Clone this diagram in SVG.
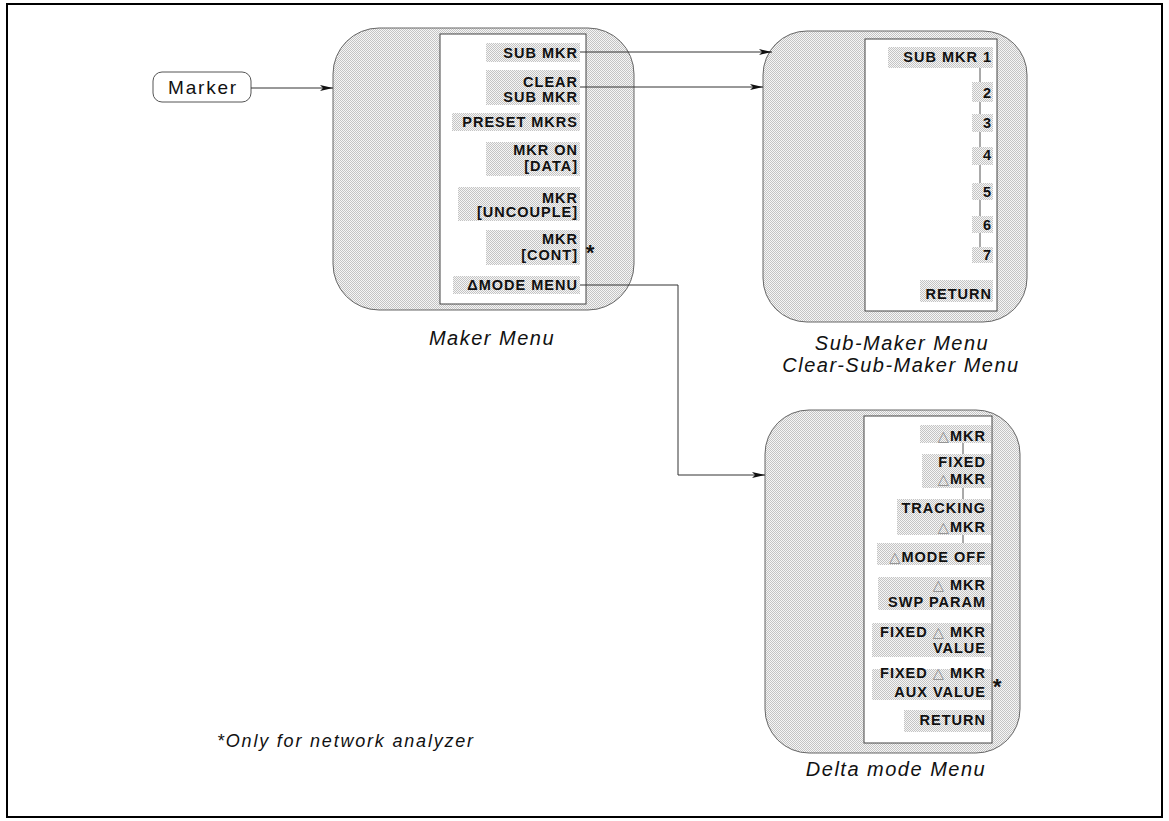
<svg xmlns="http://www.w3.org/2000/svg" width="1169" height="821" viewBox="0 0 1169 821">
<defs>
<pattern id="dots" width="2" height="2" patternUnits="userSpaceOnUse">
<rect width="2" height="2" fill="#f6f6f6"/>
<rect x="0" y="0" width="1" height="1" fill="#c4c4c4"/>
<rect x="1" y="1" width="1" height="1" fill="#c4c4c4"/>
</pattern>
<marker id="arr" markerUnits="userSpaceOnUse" markerWidth="14" markerHeight="8" refX="13" refY="4" orient="auto">
<path d="M0,1 L13,4 L0,7 L3,4 Z" fill="#111"/>
</marker>
<style>
.frame{fill:none;stroke:#000;stroke-width:2}
.outer{fill:url(#dots);stroke:#666;stroke-width:1}
.panel{fill:#fff;stroke:#444;stroke-width:1}
.hl{fill:url(#dots);stroke:none}
.lbl{font-family:"Liberation Sans",Arial,sans-serif;font-size:14.5px;font-weight:bold;letter-spacing:1px;fill:#111;text-anchor:end}
.tri{font-family:"DejaVu Sans",sans-serif;font-weight:normal;font-size:14.5px;fill:#888}
.cap{font-family:"Liberation Sans",Arial,sans-serif;font-size:20px;font-style:italic;letter-spacing:1.5px;fill:#111;text-anchor:middle}
.note{font-family:"Liberation Sans",Arial,sans-serif;font-size:18px;font-style:italic;letter-spacing:1.8px;fill:#111}
.star{font-family:"Liberation Sans",Arial,sans-serif;font-size:22px;font-weight:bold;font-style:italic;fill:#111}
.conn{fill:none;stroke:#333;stroke-width:1}
.vline{fill:none;stroke:#555;stroke-width:1}
.btn{fill:#fff;stroke:#555;stroke-width:1}
.btntxt{font-family:"Liberation Sans",Arial,sans-serif;font-size:19px;letter-spacing:1.8px;fill:#111;text-anchor:middle}
</style>
</defs>
<rect class="frame" x="7" y="4" width="1155" height="813"/>

<g id="marker-key">
<rect class="btn" x="153" y="72" width="98" height="30" rx="9"/>
<text class="btntxt" x="203" y="94">Marker</text>
</g>

<g id="maker-menu">
<rect class="outer" x="333" y="28" width="301" height="282" rx="46"/>
<rect class="panel" x="440" y="34" width="146" height="270"/>
<rect class="hl" x="486" y="43" width="94" height="19"/>
<rect class="hl" x="486" y="70" width="94" height="35"/>
<rect class="hl" x="452" y="113" width="128" height="18"/>
<rect class="hl" x="486" y="142" width="94" height="34"/>
<rect class="hl" x="458" y="187" width="122" height="34"/>
<rect class="hl" x="486" y="230" width="94" height="35"/>
<rect class="hl" x="453" y="276" width="127" height="18"/>
<text class="lbl" x="578" y="58">SUB MKR</text>
<text class="lbl" x="578" y="87">CLEAR</text>
<text class="lbl" x="578" y="102">SUB MKR</text>
<text class="lbl" x="578" y="127">PRESET MKRS</text>
<text class="lbl" x="578" y="155">MKR ON</text>
<text class="lbl" x="578" y="171">[DATA]</text>
<text class="lbl" x="578" y="203">MKR</text>
<text class="lbl" x="578" y="217">[UNCOUPLE]</text>
<text class="lbl" x="578" y="244">MKR</text>
<text class="lbl" x="578" y="260">[CONT]</text>
<text class="star" x="585" y="260">*</text>
<text class="lbl" x="578" y="290">ΔMODE MENU</text>
<text class="cap" x="492" y="345">Maker Menu</text>
</g>

<g id="sub-maker-menu">
<rect class="outer" x="763" y="31" width="264" height="291" rx="44"/>
<rect class="panel" x="865" y="39" width="132" height="272"/>
<line class="vline" x1="980" y1="66" x2="980" y2="248"/>
<rect class="hl" x="888" y="47" width="105" height="21"/>
<rect class="hl" x="972" y="82" width="21" height="20"/>
<rect class="hl" x="972" y="114" width="21" height="18"/>
<rect class="hl" x="972" y="147" width="21" height="18"/>
<rect class="hl" x="972" y="183" width="21" height="17"/>
<rect class="hl" x="972" y="216" width="21" height="17"/>
<rect class="hl" x="972" y="247" width="21" height="16"/>
<rect class="hl" x="920" y="280" width="73" height="22"/>
<text class="lbl" x="992" y="62">SUB MKR 1</text>
<text class="lbl" x="992" y="98">2</text>
<text class="lbl" x="992" y="128">3</text>
<text class="lbl" x="992" y="160">4</text>
<text class="lbl" x="992" y="197">5</text>
<text class="lbl" x="992" y="230">6</text>
<text class="lbl" x="992" y="260">7</text>
<text class="lbl" x="992" y="299">RETURN</text>
<text class="cap" x="902" y="350">Sub-Maker Menu</text>
<text class="cap" x="901" y="372">Clear-Sub-Maker Menu</text>
</g>

<g id="delta-mode-menu">
<rect class="outer" x="765" y="410" width="255" height="343" rx="44"/>
<rect class="panel" x="864" y="416" width="128" height="327"/>
<line class="vline" x1="963" y1="443" x2="963" y2="543"/>
<rect class="hl" x="920" y="425" width="71" height="18"/>
<rect class="hl" x="922" y="454" width="69" height="34"/>
<rect class="hl" x="897" y="499" width="94" height="36"/>
<rect class="hl" x="877" y="543" width="114" height="22"/>
<rect class="hl" x="878" y="577" width="113" height="33"/>
<rect class="hl" x="872" y="623" width="119" height="34"/>
<rect class="hl" x="872" y="669" width="119" height="31"/>
<rect class="hl" x="904" y="710" width="87" height="22"/>
<text class="lbl" x="986" y="441"><tspan class="tri">△</tspan>MKR</text>
<text class="lbl" x="986" y="467">FIXED</text>
<text class="lbl" x="986" y="484"><tspan class="tri">△</tspan>MKR</text>
<text class="lbl" x="986" y="513">TRACKING</text>
<text class="lbl" x="986" y="532"><tspan class="tri">△</tspan>MKR</text>
<text class="lbl" x="986" y="562"><tspan class="tri">△</tspan>MODE OFF</text>
<text class="lbl" x="986" y="590"><tspan class="tri">△</tspan> MKR</text>
<text class="lbl" x="986" y="607">SWP PARAM</text>
<text class="lbl" x="986" y="637">FIXED <tspan class="tri">△</tspan> MKR</text>
<text class="lbl" x="986" y="653">VALUE</text>
<text class="lbl" x="986" y="678">FIXED <tspan class="tri">△</tspan> MKR</text>
<text class="lbl" x="986" y="697">AUX VALUE</text>
<text class="star" x="992" y="694">*</text>
<text class="lbl" x="986" y="725">RETURN</text>
<text class="cap" x="896" y="776">Delta mode Menu</text>
</g>

<g id="note">
<text class="note" x="217" y="747">*Only for network analyzer</text>
</g>

<g id="connectors">
<path class="conn" d="M251,88 L333,88" marker-end="url(#arr)"/>
<path class="conn" d="M580,52 L772,52" marker-end="url(#arr)"/>
<path class="conn" d="M580,87 L763,87" marker-end="url(#arr)"/>
<path class="conn" d="M580,285 L678,285 L678,475 L765,475" marker-end="url(#arr)"/>
</g>
</svg>
